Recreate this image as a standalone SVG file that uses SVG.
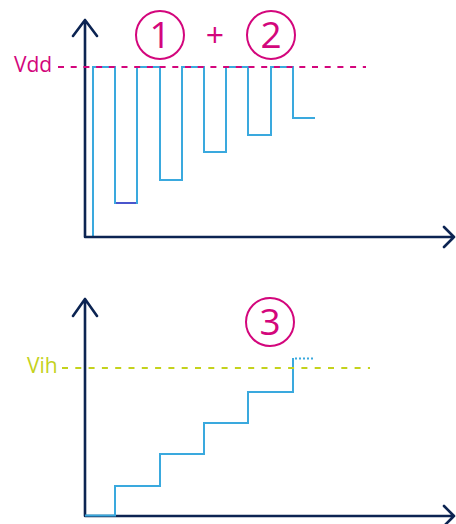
<svg xmlns="http://www.w3.org/2000/svg" width="456" height="524" viewBox="0 0 456 524">
<style>
.axis{fill:none;stroke:#0c2452;stroke-width:2.6;stroke-linecap:round;stroke-linejoin:round}
.wave{fill:none;stroke:#3aa9de;stroke-width:2;stroke-linejoin:miter}
.pink{fill:#d3067c;font-family:"Open Sans","Liberation Sans",sans-serif}
.circ{fill:none;stroke:#d3067c;stroke-width:2}
.num{font-size:37px;text-anchor:middle}
</style>
<rect width="456" height="524" fill="#fff"/>
<g id="top-chart">
<g id="top-wave">
<path class="wave" d="M93,237 V67 H115 V203 H137 V67 H160 V180 H182 V67 H204 V152 H226 V67 H248 V135 H271 V67 H293 V118 H315"/>
<line x1="116" y1="203" x2="136" y2="203" stroke="#4a55cc" stroke-width="2"/>
</g>
<g id="top-axes">
<path class="axis" d="M85,237 V20 M73,36 L85,20 L97,36 M85,237 H454 M444,227 L454,237 L444,247"/>
</g>
<g id="vdd-line">
<line x1="58" y1="67" x2="366" y2="67" stroke="#d3067c" stroke-width="2" stroke-dasharray="6 6.7"/>
<text x="14" y="72" class="pink" font-size="21">Vdd</text>
</g>
<g id="label-1">
<circle class="circ" cx="160" cy="35" r="24"/>
<text x="160" y="48" class="pink num">1</text>
</g>
<g id="label-plus">
<text x="215" y="47" class="pink" font-size="32" text-anchor="middle">+</text>
</g>
<g id="label-2">
<circle class="circ" cx="271" cy="35" r="24"/>
<text x="271" y="48" class="pink num">2</text>
</g>
</g>
<g id="bottom-chart">
<g id="bottom-axes">
<path class="axis" d="M85,516 V299 M73,316 L85,299 L97,316 M85,516 H454 M444,506 L454,516 L444,526"/>
</g>
<g id="staircase">
<path class="wave" d="M85,515.5 H115 V486 H160 V454 H204 V423 H248 V392 H293 V358"/>
<line x1="295" y1="358.5" x2="315" y2="358.5" stroke="#3aa9de" stroke-width="2" stroke-dasharray="2 2"/>
</g>
<g id="vih-line">
<line x1="62" y1="368" x2="370" y2="368" stroke="#c4d21c" stroke-width="2" stroke-dasharray="6 7.3"/>
<text x="27" y="373" fill="#c4d21c" font-family="'Open Sans','Liberation Sans',sans-serif" font-size="21">Vih</text>
</g>
<g id="label-3">
<circle class="circ" cx="270" cy="322" r="24"/>
<text x="270" y="335" class="pink num">3</text>
</g>
</g>
</svg>
